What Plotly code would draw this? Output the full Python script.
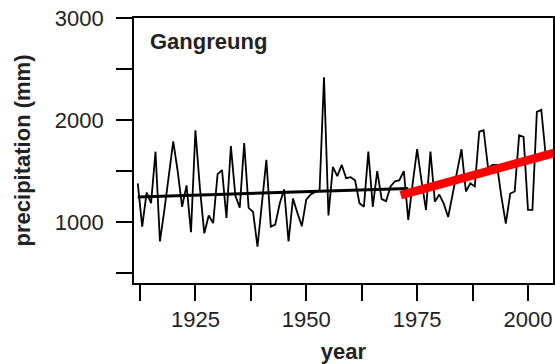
import plotly.graph_objects as go

# ---- data ----
years = list(range(1912, 2005))
precip = [
    1380, 955, 1290, 1185, 1690, 810, 1120, 1470, 1790, 1500,   # 1912-1921
    1150, 1360, 900, 1900, 1340, 890, 1065, 990, 1470, 1510,    # 1922-1931
    1040, 1745, 1260, 1140, 1775, 1140, 1100, 760, 1210, 1610,  # 1932-1941
    955, 975, 1180, 1320, 810, 1230, 1090, 960, 1220, 1270,     # 1942-1951
    1295, 1310, 2420, 1065, 1540, 1450, 1560, 1430, 1440, 1410, # 1952-1961
    1185, 1150, 1690, 1150, 1500, 1225, 1205, 1350, 1400, 1410, # 1962-1971
    1500, 1020, 1380, 1715, 1400, 1120, 1690, 1200, 1270, 1180, # 1972-1981
    1050, 1270, 1490, 1715, 1300, 1380, 1350, 1885, 1900, 1530, # 1982-1991
    1560, 1560, 1250, 985, 1280, 1300, 1850, 1835, 1120, 1120,  # 1992-2001
    2080, 2100, 1650,                                           # 2002-2004
]

trend_early_years = [1912, 1973]
trend_early_values = [1245, 1330]
trend_late_years = [1971.3, 2006]
trend_late_values = [1265, 1679]

x_tickvals = [1912.5, 1925, 1937.5, 1950, 1962.5, 1975, 1987.5, 2000]
x_ticktext = ["", "1925", "", "1950", "", "1975", "", "2000"]
y_tickvals = [500, 1000, 1500, 2000, 2500, 3000]
y_ticktext = ["", "1000", "", "2000", "", "3000"]

station = "Gangreung"

FONT = "Liberation Sans, Arial, sans-serif"
TXT = "#222222"

fig = go.Figure()
fig.add_trace(go.Scatter(x=years, y=precip, mode="lines",
                         line=dict(color="black", width=1.8),
                         showlegend=False, hoverinfo="skip"))
fig.add_trace(go.Scatter(x=trend_early_years, y=trend_early_values, mode="lines",
                         line=dict(color="black", width=3),
                         showlegend=False, hoverinfo="skip"))
fig.add_trace(go.Scatter(x=trend_late_years, y=trend_late_values, mode="lines",
                         line=dict(color="#ff0000", width=8.5),
                         showlegend=False, hoverinfo="skip"))

fig.update_layout(
    width=555, height=364,
    margin=dict(l=134, r=2, t=18, b=81, autoexpand=False),
    paper_bgcolor="white", plot_bgcolor="white",
    font=dict(family=FONT, size=22, color=TXT),
    xaxis=dict(
        range=[1911.15, 2005.64], showgrid=False, zeroline=False,
        showline=True, linecolor="black", linewidth=1.6, mirror=True,
        ticks="outside", ticklen=16, tickwidth=1.6, tickcolor="black",
        tickvals=x_tickvals, ticktext=x_ticktext, ticklabelstandoff=0,
        tickfont=dict(family=FONT, size=22, color=TXT),
        title=dict(text="<b>year</b>", standoff=15,
                   font=dict(family=FONT, size=22, color=TXT)),
    ),
    yaxis=dict(
        range=[403, 3000], showgrid=False, zeroline=False,
        showline=True, linecolor="black", linewidth=1.6, mirror=True,
        ticks="outside", ticklen=16, tickwidth=1.6, tickcolor="black",
        tickvals=y_tickvals, ticktext=y_ticktext, ticklabelstandoff=8,
        tickfont=dict(family=FONT, size=22, color=TXT),
        title=dict(text="<b>precipitation (mm)</b>", standoff=18,
                   font=dict(family=FONT, size=22, color=TXT)),
    ),
    annotations=[dict(
        text="<b>%s</b>" % station, xref="paper", yref="paper",
        x=0.033, y=0.91, xanchor="left", yanchor="middle", showarrow=False,
        font=dict(family=FONT, size=22, color=TXT),
    )],
)

fig.write_html("out.html")
